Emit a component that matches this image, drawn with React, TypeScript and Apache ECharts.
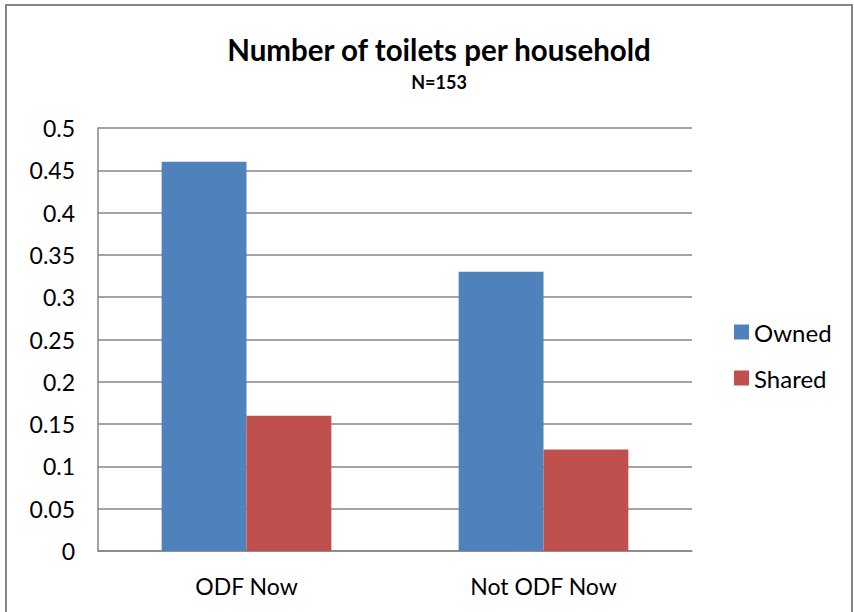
import React, { useEffect, useRef } from "react";
import * as echarts from "echarts";

const categories = ["ODF Now", "Not ODF Now"];
const owned = [0.46, 0.33];
const shared = [0.16, 0.12];
const yTicks = { min: 0, max: 0.5, interval: 0.05 };

export default function App() {
  const ref = useRef<HTMLDivElement>(null);
  useEffect(() => {
    const chart = echarts.init(ref.current!, null, { renderer: "svg" });
    const font = "Lato";
    chart.setOption({
      animation: false,
      backgroundColor: "#ffffff",
      textStyle: { fontFamily: font },
      title: {
        text: "Number of toilets per household",
        subtext: "N=153",
        left: 434,
        textAlign: "center",
        top: 29,
        itemGap: 9,
        textStyle: { fontFamily: font, fontSize: 29.5, fontWeight: "bold", color: "#000" },
        subtextStyle: { fontFamily: font, fontSize: 18, fontWeight: "bold", color: "#000" },
      },
      legend: {
        orient: "vertical",
        left: 734,
        top: 320,
        padding: 0,
        itemWidth: 15,
        itemHeight: 15,
        itemGap: 22,
        icon: "rect",
        textStyle: { fontFamily: font, fontSize: 24, color: "#000" },
        data: ["Owned", "Shared"],
      },
      grid: { left: 98, right: 854 - 692, top: 128, bottom: 612 - 551, containLabel: false },
      xAxis: {
        type: "category",
        data: categories,
        axisLine: { lineStyle: { color: "#868686", width: 1.5 } },
        axisTick: { show: false },
        axisLabel: { fontFamily: font, fontSize: 23, color: "#000", margin: 23 },
      },
      yAxis: {
        type: "value",
        min: yTicks.min,
        max: yTicks.max,
        interval: yTicks.interval,
        axisLine: { show: true, lineStyle: { color: "#868686", width: 1.5 } },
        axisTick: { show: false },
        splitLine: { lineStyle: { color: "#868686", width: 1.5 } },
        axisLabel: {
          fontFamily: font,
          fontSize: 23,
          color: "#000",
          margin: 23,
          formatter: (v: number) => String(parseFloat(v.toFixed(2))),
        },
      },
      series: [
        {
          name: "Owned",
          type: "bar",
          data: owned,
          itemStyle: { color: "#4F81BD" },
          barGap: "0%",
          barCategoryGap: "42.86%",
        },
        {
          name: "Shared",
          type: "bar",
          data: shared,
          itemStyle: { color: "#C0504D" },
          barGap: "0%",
          barCategoryGap: "42.86%",
        },
      ],
      graphic: [
        {
          type: "rect",
          shape: { x: 6, y: 5, width: 846, height: 620 },
          style: { fill: "none", stroke: "#868686", lineWidth: 2 },
          silent: true,
        },
      ],
    });
    return () => chart.dispose();
  }, []);
  return (
    <div
      ref={ref}
      style={{ position: "fixed", left: 0, top: 0, width: 854, height: 612 }}
    />
  );
}
